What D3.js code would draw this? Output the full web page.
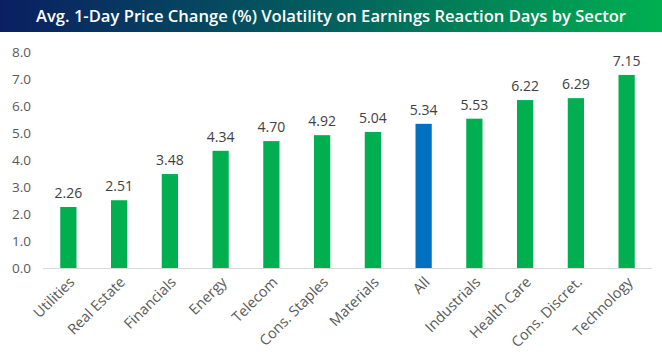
<!DOCTYPE html>
<html><head><meta charset="utf-8">
<script src="https://cdn.jsdelivr.net/npm/d3@7"></script>
<style>body{margin:0;background:#fff}svg{display:block}</style>
</head><body>
<script>
const categories = ["Utilities","Real Estate","Financials","Energy","Telecom","Cons. Staples","Materials","All","Industrials","Health Care","Cons. Discret.","Technology"];
const values = [2.26,2.51,3.48,4.34,4.70,4.92,5.04,5.34,5.53,6.22,6.29,7.15];
const highlight = ["All"];
const yTicks = [0,1,2,3,4,5,6,7,8];
const title = "Avg. 1-Day Price Change (%) Volatility on Earnings Reaction Days by Sector";

const W = 662, H = 358;
const svg = d3.select("body").append("svg").attr("width", W).attr("height", H);
const defs = svg.append("defs");
const grad = defs.append("linearGradient").attr("id","tg").attr("x1","0").attr("x2","1");
grad.append("stop").attr("offset","0").attr("stop-color","#0a1f62");
grad.append("stop").attr("offset","0.5").attr("stop-color","#03605e");
grad.append("stop").attr("offset","1").attr("stop-color","#00b050");
svg.append("rect").attr("x",0).attr("y",0).attr("width",W).attr("height",32).attr("fill","url(#tg)");
svg.append("text").attr("x",331).attr("y",22).attr("text-anchor","middle")
  .attr("fill","#fff").attr("font-family","'Open Sans', sans-serif").attr("font-weight",600)
  .attr("font-size",16).attr("textLength",590).attr("lengthAdjust","spacingAndGlyphs").text(title);

const x = d3.scaleBand().domain(categories).range([43,652]).paddingInner(0.68).paddingOuter(0.34);
const y = d3.scaleLinear().domain([0,8]).range([268,52]);

const font = "'Open Sans', sans-serif";
const yAxis = svg.append("g")
  .call(d3.axisLeft(y).tickValues(yTicks).tickFormat(d3.format(".1f")).tickSize(0));
yAxis.select(".domain").remove();
yAxis.selectAll("text").attr("x",31).attr("fill","#595959").attr("font-family",font).attr("font-size",13.5);

const xAxis = svg.append("g").attr("transform","translate(0,268)")
  .call(d3.axisBottom(x).tickSize(0).tickSizeOuter(0));
xAxis.select(".domain").attr("stroke","#d9d9d9").attr("d","M43,0.5H652");
xAxis.selectAll("text").attr("fill","#595959").attr("font-family",font).attr("font-size",14.5)
  .attr("text-anchor","end").attr("dy",0).attr("y",0)
  .attr("transform","translate(7,15) rotate(-45)");

svg.append("g").selectAll("rect").data(categories).join("rect")
  .attr("x",d=>x(d)).attr("width",x.bandwidth())
  .attr("y",(d,i)=>y(values[i])).attr("height",(d,i)=>y(0)-y(values[i]))
  .attr("fill",d=>highlight.includes(d)?"#0070c0":"#00b050");

svg.append("g").selectAll("text").data(categories).join("text")
  .attr("x",d=>x(d)+x.bandwidth()/2).attr("y",(d,i)=>y(values[i])-9)
  .attr("text-anchor","middle").attr("fill","#404040").attr("font-family",font).attr("font-size",14)
  .text((d,i)=>values[i].toFixed(2));
</script>
</body></html>
